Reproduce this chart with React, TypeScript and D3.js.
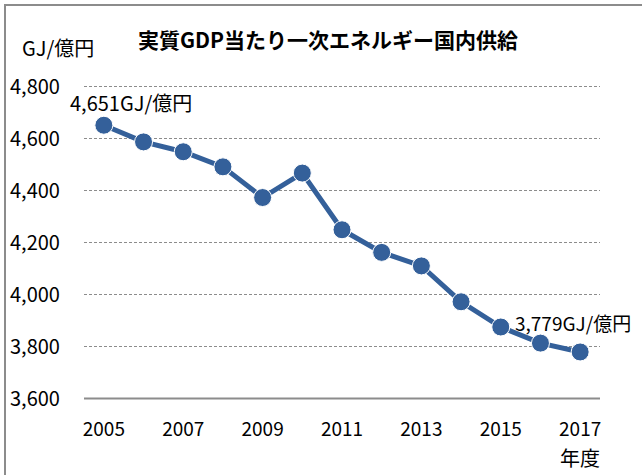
import * as d3 from "d3";
import { useEffect, useRef } from "react";

const years = [2005, 2006, 2007, 2008, 2009, 2010, 2011, 2012, 2013, 2014, 2015, 2016, 2017];
const values = [4651, 4587, 4549, 4491, 4373, 4467, 4249, 4162, 4110, 3972, 3875, 3813, 3779];
const yTicks = [3600, 3800, 4000, 4200, 4400, 4600, 4800];
const xTickYears = [2005, 2007, 2009, 2011, 2013, 2015, 2017];

const FONT = "'Noto Sans CJK JP', 'Liberation Sans', sans-serif";

export default function App() {
  const svgRef = useRef<SVGSVGElement | null>(null);

  useEffect(() => {
    if (!svgRef.current) return;
    const width = 642;
    const height = 475;

    const svg = d3.select(svgRef.current);
    svg.selectAll("*").remove();

    const x = d3
      .scaleBand<number>()
      .domain(years)
      .range([84, 600]);
    const y = d3.scaleLinear().domain([3600, 4800]).range([398.5, 86.5]);
    const cx = (yr: number) => (x(yr) ?? 0) + x.bandwidth() / 2;

    // frame
    svg
      .append("rect")
      .attr("x", 5)
      .attr("y", 5)
      .attr("width", width)
      .attr("height", height)
      .attr("fill", "none")
      .attr("stroke", "#8c8c8c")
      .attr("stroke-width", 2);

    // title
    svg
      .append("text")
      .attr("x", 328)
      .attr("y", 48)
      .attr("text-anchor", "middle")
      .attr("font-family", FONT)
      .attr("font-weight", "bold")
      .attr("font-size", 21)
      .text("実質GDP当たり一次エネルギー国内供給");

    // unit
    svg
      .append("text")
      .attr("x", 22)
      .attr("y", 56)
      .attr("font-family", FONT)
      .attr("font-size", 20)
      .text("GJ/億円");

    // gridlines
    svg
      .append("g")
      .selectAll("line")
      .data(yTicks.filter((t) => t !== 3600))
      .enter()
      .append("line")
      .attr("x1", 84)
      .attr("x2", 600)
      .attr("y1", (d) => y(d))
      .attr("y2", (d) => y(d))
      .attr("stroke", "#8c8c8c")
      .attr("stroke-width", 1)
      .attr("stroke-dasharray", "3,2");

    // x axis line
    svg
      .append("line")
      .attr("x1", 84)
      .attr("x2", 600)
      .attr("y1", y(3600))
      .attr("y2", y(3600))
      .attr("stroke", "#8c8c8c")
      .attr("stroke-width", 2);

    // y labels
    svg
      .append("g")
      .selectAll("text")
      .data(yTicks)
      .enter()
      .append("text")
      .attr("x", 10)
      .attr("y", (d) => y(d))
      .attr("dy", "0.36em")
      .attr("font-family", FONT)
      .attr("font-size", 20)
      .text((d) => d3.format(",")(d));

    // x labels
    svg
      .append("g")
      .selectAll("text")
      .data(xTickYears)
      .enter()
      .append("text")
      .attr("x", (d) => cx(d))
      .attr("y", 429)
      .attr("dy", "0.36em")
      .attr("text-anchor", "middle")
      .attr("font-family", FONT)
      .attr("font-size", 19)
      .text((d) => String(d));

    svg
      .append("text")
      .attr("x", 580)
      .attr("y", 459)
      .attr("dy", "0.36em")
      .attr("text-anchor", "middle")
      .attr("font-family", FONT)
      .attr("font-size", 20)
      .text("年度");

    // line
    const line = d3
      .line<number>()
      .x((_, i) => cx(years[i]))
      .y((d) => y(d));
    svg
      .append("path")
      .datum(values)
      .attr("d", line)
      .attr("fill", "none")
      .attr("stroke", "#34609a")
      .attr("stroke-width", 5);

    svg
      .append("g")
      .selectAll("circle")
      .data(values)
      .enter()
      .append("circle")
      .attr("cx", (_, i) => cx(years[i]))
      .attr("cy", (d) => y(d))
      .attr("r", 9)
      .attr("fill", "#34609a")
      .attr("stroke", "#ffffff")
      .attr("stroke-width", 1);

    // annotations
    const first = values[0];
    const last = values[values.length - 1];
    svg
      .append("text")
      .attr("x", 70)
      .attr("y", y(first) - 21)
      .attr("dy", "0.36em")
      .attr("font-family", FONT)
      .attr("font-size", 20)
      .text(`${d3.format(",")(first)}GJ/億円`);
    svg
      .append("text")
      .attr("x", 515)
      .attr("y", y(last) - 28)
      .attr("dy", "0.36em")
      .attr("font-family", FONT)
      .attr("font-size", 19)
      .text(`${d3.format(",")(last)}GJ/億円`);
  }, []);

  return (
    <div style={{ position: "absolute", left: 0, top: 0, background: "#fff" }}>
      <svg ref={svgRef} width={642} height={475} viewBox="0 0 642 475" />
    </div>
  );
}
